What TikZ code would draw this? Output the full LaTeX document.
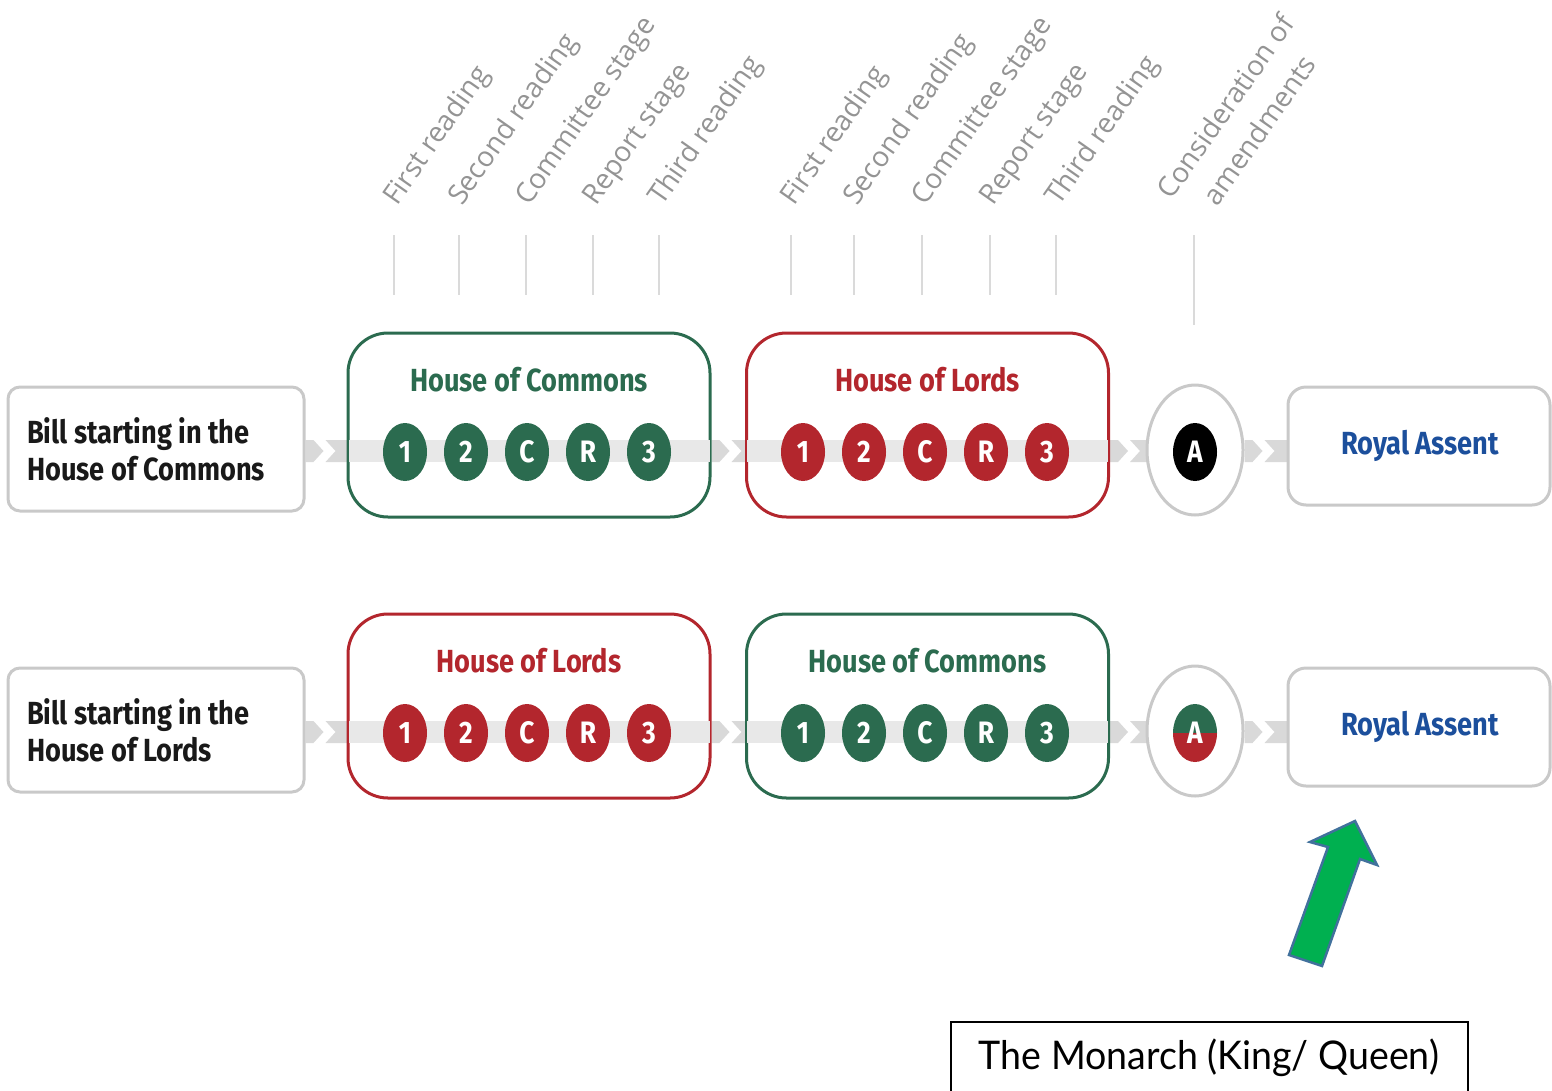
\documentclass[tikz,border=0pt]{standalone}
\usepackage{fontspec}
\setmainfont{Open Sans}
\newfontfamily\condb[FakeStretch=0.85]{Fira Sans}
\newfontfamily\lblfont{Open Sans}
\newfontfamily\monfont[FakeStretch=0.95]{Lato}
\usetikzlibrary{shapes.geometric,calc,backgrounds}
\definecolor{hgreen}{HTML}{2B6B4F}
\definecolor{hred}{HTML}{B3262D}
\definecolor{bgray}{HTML}{C9C9C9}
\definecolor{bandc}{HTML}{E8E8E8}
\definecolor{chevc}{HTML}{D9D9D9}
\definecolor{rblue}{HTML}{1C4F9C}
\definecolor{lgray}{HTML}{949494}
\definecolor{tickc}{HTML}{DADADA}
\definecolor{arrgreen}{HTML}{00B050}
\definecolor{arrblue}{HTML}{41719C}
\tikzset{
  sbox/.style={draw=bgray, line width=3pt, rounded corners=12pt, fill=white, minimum width=296pt, minimum height=124pt, inner sep=0pt},
  rbox/.style={draw=bgray, line width=3pt, rounded corners=18pt, fill=white, minimum width=262pt, minimum height=118pt, inner sep=0pt},
  hbox/.style={draw=#1, line width=3pt, rounded corners=40pt, fill=white, minimum width=362pt, minimum height=184pt, inner sep=0pt},
  aring/.style={draw=bgray, line width=3pt, ellipse, fill=white, minimum width=96pt, minimum height=130pt, inner sep=0pt},
  stc/.style={ellipse, fill=#1, minimum width=44pt, minimum height=58pt, inner sep=0pt, text=white, font=\condb\bfseries\fontsize{31}{31}\selectfont},
  ttl/.style={text=#1, font=\condb\bfseries\fontsize{32}{36}\selectfont, inner sep=0pt},
  stxt/.style={align=left, anchor=west, inner sep=0pt, text=black!90, font=\condb\bfseries\fontsize{32}{37}\selectfont},
  lbl/.style={anchor=base west, rotate=55, inner sep=0pt, text=lgray, font=\lblfont\fontsize{28}{41}\selectfont},
  tickline/.style={draw=tickc, line width=1.5pt},
}
\newcommand\gapchev[3]{%
  \fill[chevc] ($(#1.east|-#3)+(0,-11)$) -- ($(#1.east|-#3)+(8,-11)$) -- ($(#1.east|-#3)+(18,0)$) -- ($(#1.east|-#3)+(8,11)$) -- ($(#1.east|-#3)+(0,11)$) -- cycle;
  \fill[chevc] ($(#1.east|-#3)+(20,-11)$) -- ($(#2.west|-#3)+(3,-11)$) -- ($(#2.west|-#3)+(3,11)$) -- ($(#1.east|-#3)+(20,11)$) -- ($(#1.east|-#3)+(30,0)$) -- cycle;
}
\newcommand\innerband[2]{%
  \fill[bandc] ($(#1.west|-#2)+(2,-11)$) rectangle ($(#1.east|-#2)+(-2,11)$);
}
\begin{document}
\begin{tikzpicture}[x=1pt,y=-1pt]
\useasboundingbox (0,0) rectangle (1552,1090);
\clip (0,0) rectangle (1552,1090);
\coordinate (band1) at (0,451);
\coordinate (band2) at (0,732);

% ---- labels and ticks
\foreach \x/\t [count=\i] in {394/First reading,459/Second reading,526/Committee stage,593/Report stage,659/Third reading,791/First reading,854/Second reading,922/Committee stage,990/Report stage,1056/Third reading}{
  \node[lbl] (lab\i) at (\x+3,207) {\t};
  \coordinate (tt\i) at (\x,235);
  \coordinate (tb\i) at (\x,295);
  \draw[tickline] (tt\i) -- (tb\i);
}
\node[lbl, anchor=center, align=center] (lab11) at (1242,118) {Consideration of\\amendments};
\coordinate (tt11) at (1194,235);
\coordinate (tb11) at (1194,325);
\draw[tickline] (tt11) -- (tb11);

% ---- row 1
\node[sbox] (s1) at (156,449) {};
\node[stxt] (s1t) at (27,449) {Bill starting in the\\House of Commons};
\node[hbox=hgreen] (h11) at (529,425) {};
\node[hbox=hred] (h12) at (927.5,425) {};
\innerband{h11}{band1}
\innerband{h12}{band1}
\node[ttl=hgreen] (h11t) at (529,380) {House of Commons};
\node[ttl=hred] (h12t) at (927.5,380) {House of Lords};
\foreach \t [count=\i] in {1,2,C,R,3}{
  \node[stc=hgreen] (c1\i) at ({344+61*\i},452) {\t};
  \node[stc=hred] (d1\i) at ({742+61*\i},452) {\t};
}
\node[aring] (a1) at (1195,450) {};
\node[stc=black] (a1c) at (1195,452) {A};
\node[rbox] (r1) at (1419,446) {};
\node[ttl=rblue] (r1t) at (1420,446) {Royal Assent};
\begin{scope}[on background layer]
  \gapchev{s1}{h11}{band1}
  \gapchev{h11}{h12}{band1}
  \gapchev{h12}{a1}{band1}
  \gapchev{a1}{r1}{band1}
\end{scope}

% ---- row 2
\node[sbox] (s2) at (156,730) {};
\node[stxt] (s2t) at (27,730) {Bill starting in the\\House of Lords};
\node[hbox=hred] (h21) at (529,706) {};
\node[hbox=hgreen] (h22) at (927.5,706) {};
\innerband{h21}{band2}
\innerband{h22}{band2}
\node[ttl=hred] (h21t) at (529,661) {House of Lords};
\node[ttl=hgreen] (h22t) at (927.5,661) {House of Commons};
\foreach \t [count=\i] in {1,2,C,R,3}{
  \node[stc=hred] (c2\i) at ({344+61*\i},733) {\t};
  \node[stc=hgreen] (d2\i) at ({742+61*\i},733) {\t};
}
\node[aring] (a2) at (1195,731) {};
\begin{scope}
  \clip (1195,733) ellipse [x radius=22, y radius=29];
  \fill[hgreen] (1170,700) rectangle (1220,733);
  \fill[hred] (1170,733) rectangle (1220,766);
\end{scope}
\node[stc=none, fill=none] (a2c) at (1195,733) {A};
\node[rbox] (r2) at (1419,727) {};
\node[ttl=rblue] (r2t) at (1420,727) {Royal Assent};
\begin{scope}[on background layer]
  \gapchev{s2}{h21}{band2}
  \gapchev{h21}{h22}{band2}
  \gapchev{h22}{a2}{band2}
  \gapchev{a2}{r2}{band2}
\end{scope}

% ---- monarch
\draw[arrblue, fill=arrgreen, line width=2.5pt, line join=miter] (1289,955) -- (1328,847) -- (1310,842) -- (1355,821) -- (1377,865) -- (1360,859) -- (1322,966) -- cycle;
\node[draw=black, line width=1.5pt, minimum width=517pt, minimum height=90pt, inner sep=0pt] (mbox) at (1209.5,1067) {};
\node[inner sep=0pt, font=\monfont\fontsize{39.5}{48}\selectfont] (mtext) at (1209,1058) {The Monarch (King/ Queen)};
\end{tikzpicture}
\end{document}
